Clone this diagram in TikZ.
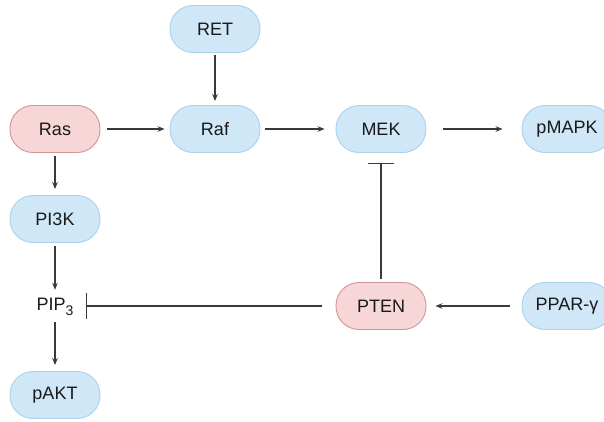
\documentclass[tikz,border=0pt]{standalone}
\usepackage{fontspec}
\setmainfont{Liberation Sans}
\usetikzlibrary{arrows.meta}
\definecolor{bfill}{HTML}{CFE7F6}
\definecolor{bdraw}{HTML}{A9D2EB}
\definecolor{rfill}{HTML}{F6D6D6}
\definecolor{rdraw}{HTML}{D69393}
\definecolor{lnk}{HTML}{3A3A3A}
\begin{document}
\begin{tikzpicture}[x=1pt,y=-1pt,
  box/.style={rounded corners=23pt,minimum width=90pt,minimum height=47pt,line width=0.9pt,
    font=\fontsize{18}{18}\selectfont,text=black!90,inner sep=0pt},
  bluebox/.style={box,fill=bfill,draw=bdraw},
  redbox/.style={box,fill=rfill,draw=rdraw},
  act/.style={draw=lnk,line width=1.1pt,-{Stealth[length=7pt,width=5.5pt]}},
  inh/.style={draw=lnk,line width=1.1pt,-{Bar[width=26pt,line width=1.2pt]}}]
\useasboundingbox (0,0) rectangle (604,421);
\clip (0,0) rectangle (604,421);
\fill[white] (0,0) rectangle (604,421);
\node[bluebox] (ret) at (215,29) {RET};
\node[bluebox] (raf) at (215,129) {Raf};
\node[redbox] (ras) at (55,129) {Ras};
\node[bluebox] (mek) at (381,129) {MEK};
\node[bluebox] (pmapk) at (567,129) {pMAPK};
\node[bluebox] (pi3k) at (55,219) {PI3K};
\node[font=\fontsize{18}{18}\selectfont,text=black!90,inner sep=0pt,minimum height=20pt] (pip3) at (55,307) {PIP\raisebox{-0.5ex}{\fontsize{14}{14}\selectfont 3}};
\node[bluebox] (pakt) at (55,395) {pAKT};
\node[redbox] (pten) at (381,306) {PTEN};
\node[bluebox] (ppar) at (567,306) {PPAR-γ};
\coordinate (pbar) at ([xshift=12pt]pip3.east |- pten.west);

\draw[act,shorten <=2pt,shorten >=4pt] (ret) -- (raf);
\draw[act,shorten <=7pt,shorten >=5pt] (ras) -- (raf);
\draw[act,shorten <=5pt,shorten >=11pt] (raf) -- (mek);
\draw[act,shorten <=17pt,shorten >=19pt] (mek) -- (pmapk);
\draw[act,shorten <=3pt,shorten >=6pt] (ras) -- (pi3k);
\draw[act,shorten <=3pt,shorten >=7pt] (pi3k) -- (pip3);
\draw[act,shorten <=5pt,shorten >=6pt] (pip3) -- (pakt);
\draw[inh,shorten <=3pt,shorten >=10pt] (pten.north) -- (mek.south);
\draw[inh,shorten <=14pt] (pten.west) -- (pbar);
\draw[act,shorten <=12pt,shorten >=9pt] (ppar) -- (pten);
\end{tikzpicture}
\end{document}
